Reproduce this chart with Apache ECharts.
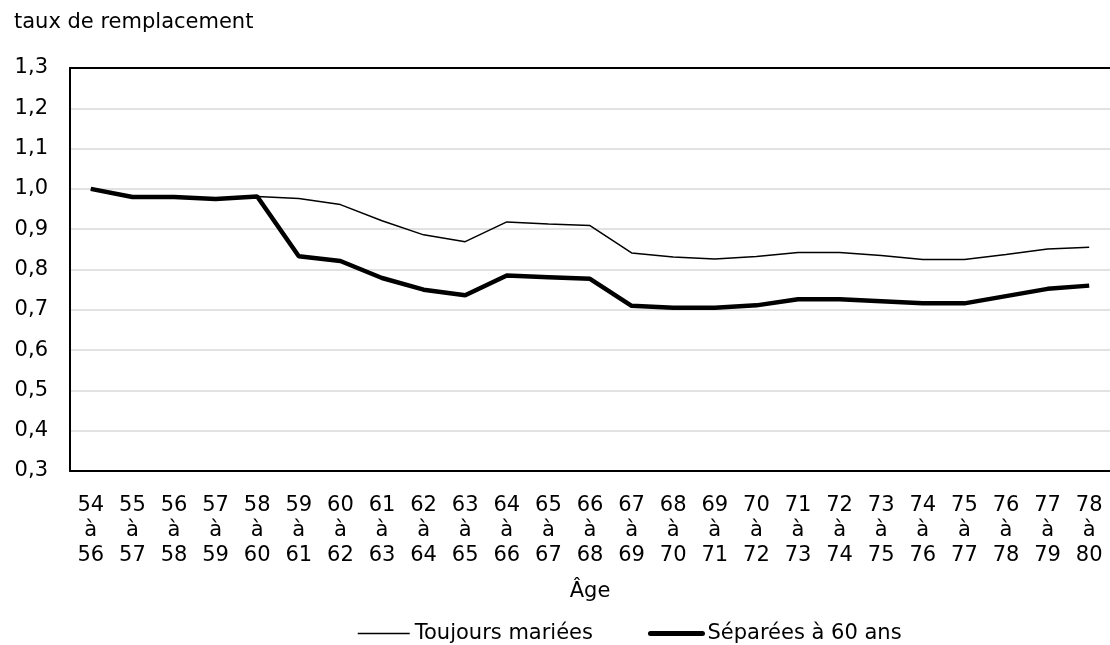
<!DOCTYPE html>
<html>
<head>
<meta charset="utf-8">
<script src="https://cdn.jsdelivr.net/npm/echarts@6/dist/echarts.min.js"></script>
<style>
  html, body { margin: 0; padding: 0; background: #fff; }
  #chart { width: 1110px; height: 645px; }
</style>
</head>
<body>
<div id="chart"></div>
<script>
// tranches d'âge
const ages = ['54', '55', '56', '57', '58', '59', '60', '61', '62', '63', '64', '65', '66',
  '67', '68', '69', '70', '71', '72', '73', '74', '75', '76', '77', '78'];
const agesFin = ['56', '57', '58', '59', '60', '61', '62', '63', '64', '65', '66', '67', '68',
  '69', '70', '71', '72', '73', '74', '75', '76', '77', '78', '79', '80'];

const toujoursMariees = [1.00, 0.98, 0.98, 0.976, 0.981, 0.976, 0.961, 0.921, 0.886, 0.869, 0.918, 0.913, 0.909,
  0.841, 0.831, 0.826, 0.832, 0.842, 0.842, 0.835, 0.825, 0.825, 0.837, 0.851, 0.855];
const separees60 = [1.00, 0.98, 0.98, 0.975, 0.981, 0.833, 0.821, 0.779, 0.75, 0.736, 0.785, 0.781, 0.777,
  0.71, 0.705, 0.705, 0.711, 0.726, 0.726, 0.721, 0.716, 0.716, 0.734, 0.752, 0.76];

const categories = ages.map((a, i) => a + '\nà\n' + agesFin[i]);

const font = 'DejaVu Sans, Verdana, sans-serif';
const chart = echarts.init(document.getElementById('chart'));

chart.setOption({
  animation: false,
  textStyle: { fontFamily: font, color: '#000' },
  title: {
    text: 'taux de remplacement',
    left: 9,
    top: 7,
    textStyle: { fontFamily: font, fontSize: 21, fontWeight: 'normal', color: '#000' }
  },
  grid: {
    left: 70,
    top: 68,
    right: -3,
    bottom: 174
  },
  legend: {
    left: 352,
    top: 618,
    itemWidth: 52,
    itemHeight: 14,
    itemGap: 55,
    itemStyle: { opacity: 0 },
    textStyle: { fontFamily: font, fontSize: 21, color: '#000' },
    data: [
      { name: 'Toujours mariées', lineStyle: { width: 1.5, color: '#000' } },
      { name: 'Séparées à 60 ans', lineStyle: { width: 5, color: '#000', cap: 'round' } }
    ]
  },
  xAxis: [
    {
      type: 'category',
      data: categories,
      name: 'Âge',
      nameLocation: 'middle',
      nameGap: 110,
      nameTextStyle: { fontFamily: font, fontSize: 21, color: '#000' },
      axisLine: { lineStyle: { color: '#000', width: 2 } },
      axisTick: { inside: true, length: 9, lineStyle: { color: '#000', width: 1.5 } },
      axisLabel: {
        interval: 0,
        margin: 22,
        fontSize: 21,
        lineHeight: 25,
        color: '#000',
        fontFamily: font
      }
    },
    {
      // bordure du haut
      type: 'category',
      data: categories,
      position: 'top',
      axisLine: { lineStyle: { color: '#000', width: 2 } },
      axisTick: { show: false },
      axisLabel: { show: false }
    }
  ],
  yAxis: {
    type: 'value',
    min: 0.3,
    max: 1.3,
    interval: 0.1,
    axisLine: { show: true, lineStyle: { color: '#000', width: 2 } },
    axisTick: { show: false },
    splitLine: { showMaxLine: false, showMinLine: false, lineStyle: { color: '#d9d9d9', width: 1.5 } },
    axisLabel: {
      margin: 22,
      fontSize: 21,
      color: '#000',
      fontFamily: font,
      formatter: v => v.toFixed(1).replace('.', ',')
    }
  },
  series: [
    {
      name: 'Toujours mariées',
      type: 'line',
      data: toujoursMariees,
      symbol: 'none',
      lineStyle: { color: '#000', width: 1.5 },
      itemStyle: { color: '#000' }
    },
    {
      name: 'Séparées à 60 ans',
      type: 'line',
      data: separees60,
      symbol: 'none',
      lineStyle: { color: '#000', width: 4.5 },
      itemStyle: { color: '#000' }
    }
  ]
});
</script>
</body>
</html>
